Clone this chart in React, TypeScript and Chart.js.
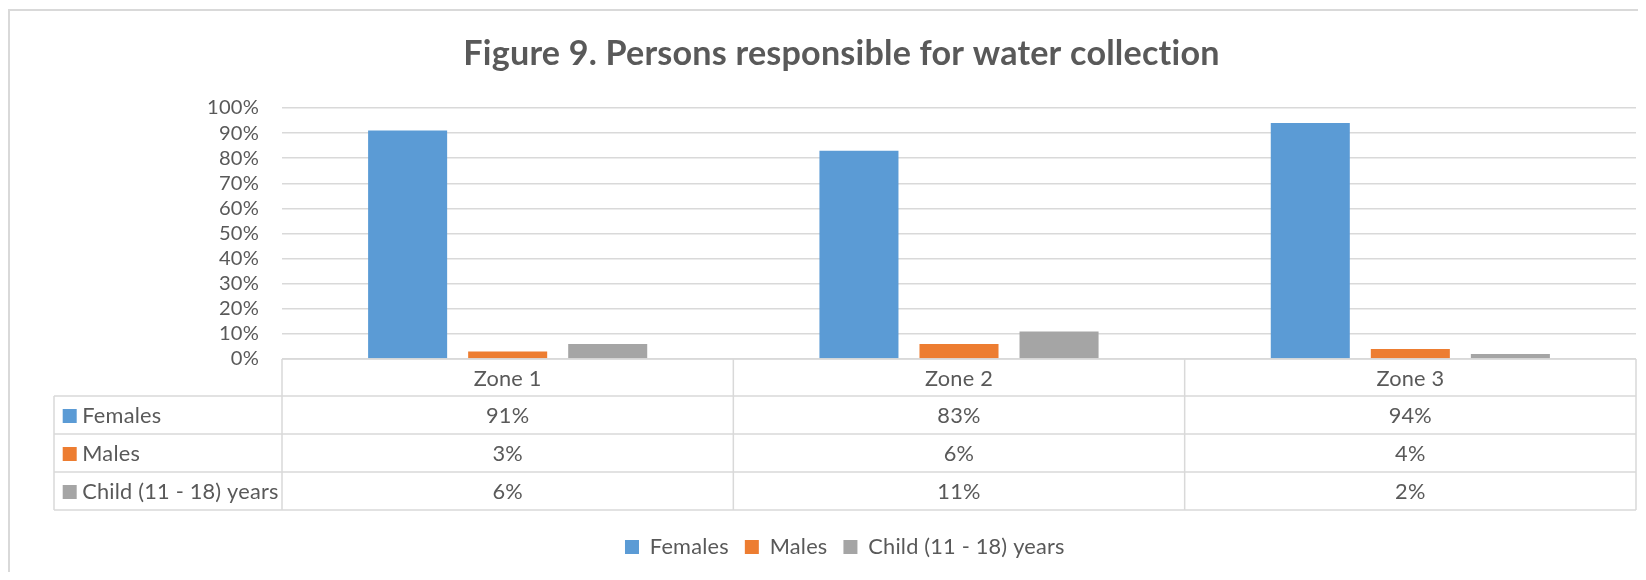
import React, { useEffect, useRef } from 'react';
import { Chart, registerables } from 'chart.js';

Chart.register(...registerables);

// ---- data ----
const TITLE = 'Figure 9. Persons responsible for water collection';
const categories = ['Zone 1', 'Zone 2', 'Zone 3'];
const seriesNames = ['Females', 'Males', 'Child (11 - 18) years'];
const females = [91, 83, 94];
const males = [3, 6, 4];
const children = [6, 11, 2];
const yMin = 0;
const yMax = 100;
const yStep = 10;
const seriesColors = ['#5B9BD5', '#ED7D31', '#A5A5A5'];

// ---- style ----
const FAMILY = 'Lato, "Open Sans", sans-serif';
const TEXT = '#595959';
const LINE = '#D9D9D9';
const W = 1630;
const H = 564;
const SPACING = '0.2px';

function fitSize(text: string, target: number, weight: string) {
  const c = document.createElement('canvas').getContext('2d')! as any;
  c.font = `${weight} 100px ${FAMILY}`;
  const w100 = c.measureText(text).width;
  const extra = 0.2 * text.length;
  return (100 * (target - extra)) / w100;
}

export default function App() {
  const ref = useRef<HTMLCanvasElement>(null);

  useEffect(() => {
    const titleSize = fitSize(TITLE, 757, 'bold');
    const tickSize = fitSize('100%', 52, 'normal');
    const textSize = fitSize('Females', 79, 'normal');

    const headerH = 37;
    const rowH = 38;
    const tableLeft = 46;
    const legendPad = 16;
    const xAxisH = 154 + (23 - legendPad);
    const padTop = 45.5 - 0.6 * titleSize;
    const padBottom = 100 - padTop - 1.2 * titleSize;
    const layoutBottom = H - (100 + 251) - xAxisH - (textSize + legendPad + 10);

    const spacingPlugin = {
      id: 'spacing',
      beforeDraw(chart: any) {
        (chart.ctx as any).letterSpacing = SPACING;
      },
    };

    const tablePlugin = {
      id: 'dataTable',
      afterDraw(chart: any) {
        const { ctx, chartArea } = chart;
        const x = chart.scales.x;
        const n = chart.data.labels.length;
        const colW = (x.right - x.left) / n;
        const top = chartArea.bottom;
        const rows = chart.data.datasets.length;
        const bottom = top + headerH + rows * rowH;
        ctx.save();
        (ctx as any).letterSpacing = SPACING;
        ctx.strokeStyle = LINE;
        ctx.lineWidth = 1.5;
        const hline = (x1: number, x2: number, y: number) => {
          ctx.beginPath();
          ctx.moveTo(x1, y);
          ctx.lineTo(x2, y);
          ctx.stroke();
        };
        const vline = (xx: number, y1: number, y2: number) => {
          ctx.beginPath();
          ctx.moveTo(xx, y1);
          ctx.lineTo(xx, y2);
          ctx.stroke();
        };
        hline(x.left, x.right, top);
        for (let r = 0; r <= rows; r++) {
          hline(tableLeft, x.right, top + headerH + r * rowH);
        }
        for (let c = 0; c <= n; c++) {
          vline(x.left + c * colW, top, bottom);
        }
        vline(tableLeft, top + headerH, bottom);

        ctx.fillStyle = TEXT;
        ctx.font = `normal ${textSize}px ${FAMILY}`;
        ctx.textBaseline = 'middle';
        ctx.textAlign = 'center';
        chart.data.labels.forEach((lab: string, i: number) => {
          ctx.fillText(lab, x.getPixelForValue(i), top + headerH / 2 + 1);
        });
        chart.data.datasets.forEach((ds: any, r: number) => {
          const cy = top + headerH + r * rowH + rowH / 2 + 1;
          ctx.fillStyle = ds.backgroundColor;
          ctx.fillRect(tableLeft + 8.7, cy - 7, 14, 14);
          ctx.fillStyle = TEXT;
          ctx.textAlign = 'left';
          ctx.fillText(ds.label, tableLeft + 28.3, cy);
          ctx.textAlign = 'center';
          ds.data.forEach((v: number, i: number) => {
            ctx.fillText(`${v}%`, x.getPixelForValue(i), cy);
          });
        });
        ctx.restore();
      },
    };

    const values = [females, males, children];
    const chart = new Chart(ref.current!, {
      type: 'bar',
      data: {
        labels: categories,
        datasets: seriesNames.map((name, i) => ({
          label: name,
          data: values[i],
          backgroundColor: seriesColors[i],
          borderWidth: 0,
          categoryPercentage: 0.665,
          barPercentage: 0.79,
        })),
      },
      options: {
        responsive: false,
        animation: false,
        devicePixelRatio: 1,
        layout: { padding: { left: 39, right: 2, top: 0, bottom: layoutBottom } },
        plugins: {
          tooltip: { enabled: false },
          title: {
            display: true,
            text: TITLE,
            color: TEXT,
            font: { family: FAMILY, size: titleSize, weight: 'bold' },
            padding: { top: padTop, bottom: padBottom },
          },
          legend: {
            position: 'bottom',
            labels: {
              boxWidth: 14,
              boxHeight: 14,
              padding: legendPad,
              color: TEXT,
              font: { family: FAMILY, size: textSize },
            },
          },
        },
        scales: {
          x: {
            type: 'category',
            ticks: { display: false },
            grid: { display: false },
            border: { display: false },
            afterFit: (s: any) => {
              s.height = xAxisH;
            },
          },
          y: {
            min: yMin,
            max: yMax,
            ticks: {
              stepSize: yStep,
              autoSkip: false,
              padding: 23,
              color: TEXT,
              font: { family: FAMILY, size: tickSize },
              callback: (v: any) => `${v}%`,
            },
            grid: { color: LINE, lineWidth: 1.5, drawTicks: false },
            border: { display: false },
            afterFit: (s: any) => {
              s.width = 235;
            },
          },
        },
      },
      plugins: [spacingPlugin, tablePlugin],
    } as any);
    return () => chart.destroy();
  }, []);

  return (
    <div style={{ position: 'relative', width: W, height: H, overflow: 'hidden' }}>
      <canvas ref={ref} width={W} height={H} style={{ position: 'absolute', left: 0, top: 0, display: 'block' }} />
      <div
        style={{
          position: 'absolute',
          left: 0,
          top: 1,
          width: 3000,
          height: 3000,
          borderTop: '2px solid #D9D9D9',
          borderLeft: '2px solid #D9D9D9',
          pointerEvents: 'none',
        }}
      />
    </div>
  );
}
